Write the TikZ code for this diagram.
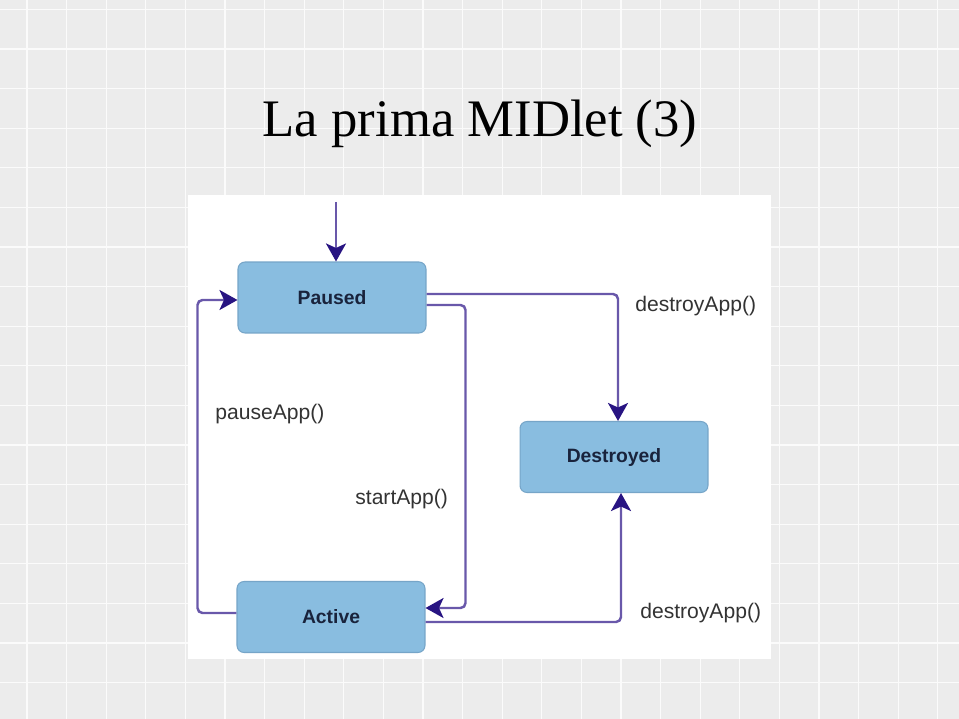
\documentclass[tikz,border=0pt]{standalone}
\usepackage{fontspec}
\setmainfont{Liberation Serif}
\setsansfont{Liberation Sans}
\usetikzlibrary{arrows.meta,positioning}
\definecolor{slidebg}{RGB}{236,236,236}
\definecolor{statefill}{RGB}{137,189,224}
\definecolor{stateedge}{RGB}{118,165,200}
\definecolor{statetext}{RGB}{25,35,60}
\definecolor{wire}{RGB}{105,88,170}
\definecolor{tipcol}{RGB}{40,20,130}
\tikzset{
  state/.style={draw=stateedge, fill=statefill, line width=0.6pt,
    rounded corners=0.14cm, minimum width=3.76cm, minimum height=1.42cm,
    font=\sffamily\bfseries\fontsize{11}{13}\selectfont, text=statetext},
  trans/.style={draw=wire, line width=1.4pt, rounded corners=0.1cm,
    -{Stealth[length=0.36cm,width=0.4cm,inset=0.09cm,color=tipcol]}},
  call/.style={font=\sffamily\fontsize{12}{14}\selectfont, text=black!80,
    inner sep=0pt},
}

\begin{document}
\begin{tikzpicture}[x=0.02cm, y=-0.02cm]
\useasboundingbox (0,0) rectangle (959,719);
% slide background with faint tiles
\fill[slidebg] (0,0) rectangle (959,719);
\foreach \gx in {0,...,25}
  \draw[white!80!slidebg, line width=0.025cm] ({-12.6+39.6*\gx},0) -- ++(0,719);
\foreach \gy in {0,...,18}
  \draw[white!80!slidebg, line width=0.025cm] (0,{9.4+39.6*\gy}) -- ++(959,0);
% title
\node[font=\fontsize{30}{36}\selectfont] (title) at (480,124) {La prima MIDlet (3)};
% white panel of the figure
\fill[white] (188,195) rectangle (771,659);
% the three states
\node[state] (paused) at (332,297.5) {Paused};
\node[state] (destroyed) at (614,457) {Destroyed};
\node[state] (active) at (331,617) {Active};
% transitions
\coordinate (start) at (336,202);
\draw[trans] (start) -- (start |- paused.north);
\draw[trans] ([yshift=0.08cm]active.west) -- ++(-39,0) |- ([yshift=-0.05cm]paused.west);
\draw[trans] ([yshift=-0.15cm]paused.east) -- ++(39,0) |- ([yshift=0.18cm]active.east);
\draw[trans] ([yshift=0.07cm]paused.east) -| ([xshift=0.08cm]destroyed.north);
\draw[trans] ([yshift=-0.1cm]active.east) -| ([xshift=0.14cm]destroyed.south);
% method labels
\node[call, anchor=west] (destroytop) at (635,306) {destroyApp()};
\node[call, anchor=west] (pausecall) at (215,414) {pauseApp()};
\node[call, anchor=west] (startcall) at (355,499) {startApp()};
\node[call, anchor=west] (destroybot) at (640,613) {destroyApp()};
\end{tikzpicture}
\end{document}
